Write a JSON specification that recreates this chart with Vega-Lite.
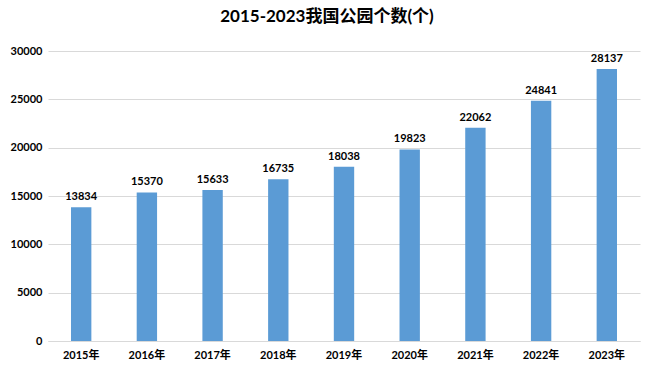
{
  "$schema": "https://vega.github.io/schema/vega-lite/v6.json",
  "autosize": "none",
  "width": 592,
  "height": 290,
  "padding": {"left": 48, "top": 51, "right": 14, "bottom": 34},
  "background": "white",
  "title": {"text": "2015-2023我国公园个数(个)", "font": "Lato, Noto Sans CJK SC", "fontSize": 17, "fontWeight": "bold", "color": "#000000", "anchor": "middle", "dx": -17, "offset": 19},
  "data": {"values": [
    {"year": "2015年", "value": 13834},
    {"year": "2016年", "value": 15370},
    {"year": "2017年", "value": 15633},
    {"year": "2018年", "value": 16735},
    {"year": "2019年", "value": 18038},
    {"year": "2020年", "value": 19823},
    {"year": "2021年", "value": 22062},
    {"year": "2022年", "value": 24841},
    {"year": "2023年", "value": 28137}
  ]},
  "encoding": {
    "x": {"field": "year", "type": "nominal", "sort": null, "title": null,
      "scale": {"paddingInner": 0.69, "paddingOuter": 0.35},
      "axis": {"labelAngle": 0, "domain": true, "domainColor": "#d9d9d9", "ticks": false, "labelFont": "Lato, Noto Sans CJK SC", "labelFontSize": 11, "labelFontWeight": "bold", "labelColor": "#000000", "labelPadding": 8}},
    "y": {"field": "value", "type": "quantitative", "title": null,
      "scale": {"domain": [0, 30000]},
      "axis": {"values": [0, 5000, 10000, 15000, 20000, 25000, 30000], "format": "d", "domain": false, "ticks": false, "gridColor": "#d9d9d9", "labelFont": "Lato", "labelFontSize": 11, "labelFontWeight": "bold", "labelColor": "#000000", "labelPadding": 6}}
  },
  "layer": [
    {"mark": {"type": "bar", "color": "#5b9bd5"}},
    {"mark": {"type": "text", "dy": -10, "font": "Lato", "fontSize": 11, "fontWeight": "bold", "color": "#000000"},
      "encoding": {"text": {"field": "value", "type": "quantitative", "format": "d"}}}
  ],
  "config": {"view": {"stroke": null}}
}
